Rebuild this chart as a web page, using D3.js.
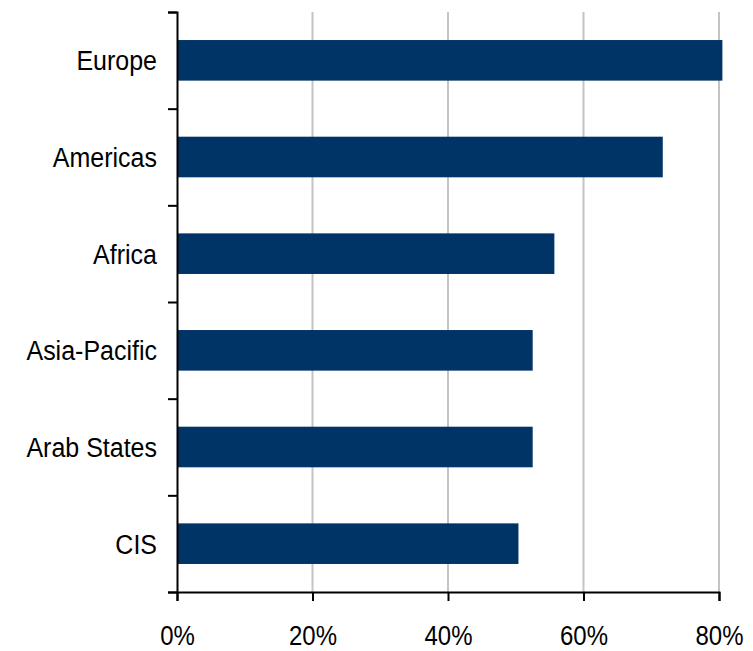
<!DOCTYPE html>
<html>
<head>
<meta charset="utf-8">
<script src="https://cdn.jsdelivr.net/npm/d3@7"></script>
<style>
  html, body { margin: 0; padding: 0; background: #ffffff; }
  svg { display: block; }
  text { font-family: "Liberation Sans", Arial, sans-serif; fill: #000; }
</style>
</head>
<body>
<script>
const categories = ["Europe", "Americas", "Africa", "Asia-Pacific", "Arab States", "CIS"];
const values = [0.805, 0.717, 0.557, 0.525, 0.525, 0.504];
const xTicks = [0, 0.2, 0.4, 0.6, 0.8];
const xTickLabels = ["0%", "20%", "40%", "60%", "80%"];

const W = 753, H = 651;
const mLeft = 177, mRight = 719, mTop = 12, mBottom = 592;

const svg = d3.select("body").append("svg").attr("width", W).attr("height", H);

const x = d3.scaleLinear().domain([0, 0.8]).range([mLeft, mRight]);
const y = d3.scaleBand().domain(categories).range([mTop, mBottom]).paddingInner(0.58).paddingOuter(0.29);
const yEdges = d3.scaleLinear().domain([0, categories.length]).range([mTop, mBottom]);

// gridlines
svg.append("g").selectAll("line").data(xTicks.slice(1)).join("line")
  .attr("x1", d => x(d)).attr("x2", d => x(d))
  .attr("y1", mTop).attr("y2", mBottom)
  .attr("stroke", "#c4c4c4").attr("stroke-width", 2);

// bars
svg.append("g").selectAll("rect").data(categories).join("rect")
  .attr("x", x(0))
  .attr("y", d => y(d))
  .attr("width", (d, i) => x(values[i]) - x(0))
  .attr("height", y.bandwidth())
  .attr("fill", "#003366");

// y axis (ticks at band edges)
const yAxis = svg.append("g").attr("transform", `translate(${mLeft},0)`)
  .call(d3.axisLeft(yEdges).tickValues(d3.range(0, categories.length + 1)).tickSize(9).tickFormat(""));
yAxis.select(".domain").attr("stroke", "#000").attr("stroke-width", 2);
yAxis.selectAll(".tick line").attr("stroke", "#000").attr("stroke-width", 2);

// category labels
const yLab = svg.append("g").attr("transform", `translate(${mLeft},0)`)
  .call(d3.axisLeft(y).tickSize(0).tickPadding(20));
yLab.select(".domain").remove();
yLab.selectAll(".tick text")
  .attr("x", null).attr("dy", null).attr("y", 0)
  .attr("font-size", 25)
  .attr("transform", "translate(-20,10) scale(1,1.12)");

// x axis
const xAxis = svg.append("g").attr("transform", `translate(0,${mBottom})`)
  .call(d3.axisBottom(x).tickValues(xTicks).tickSize(9).tickFormat((d, i) => xTickLabels[i]));
xAxis.select(".domain").attr("stroke", "#000").attr("stroke-width", 2);
xAxis.selectAll(".tick line").attr("stroke", "#000").attr("stroke-width", 2);
xAxis.selectAll(".tick text")
  .attr("y", 0).attr("dy", null)
  .attr("font-size", 24)
  .attr("transform", "translate(0,53) scale(1,1.15)");
</script>
</body>
</html>
